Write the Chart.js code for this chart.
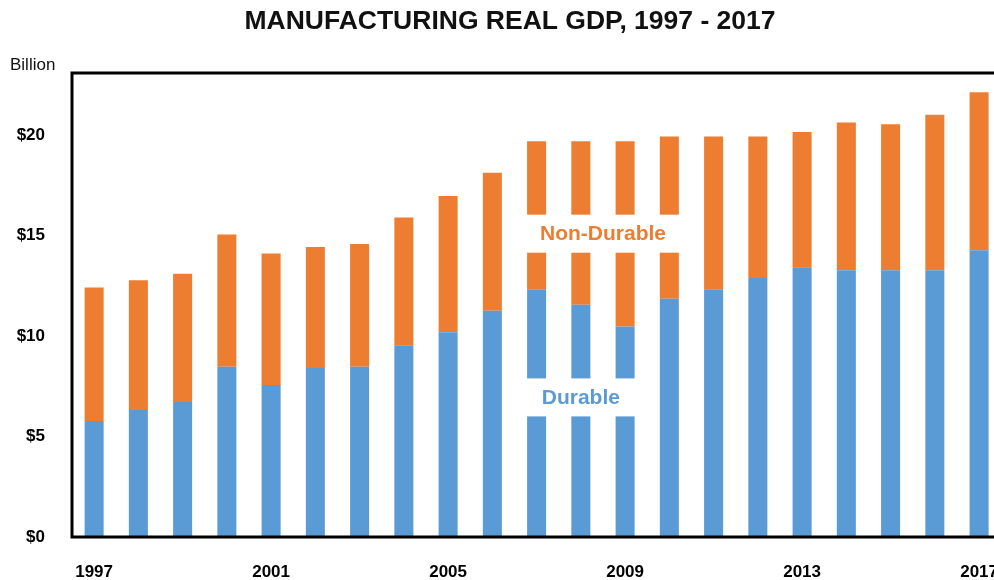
<!DOCTYPE html>
<html>
<head>
<meta charset="utf-8">
<script src="https://cdn.jsdelivr.net/npm/chart.js@4.4.1/dist/chart.umd.min.js"></script>
<style>
  html, body { margin: 0; padding: 0; background: #fff; overflow: hidden; }
</style>
</head>
<body>
<canvas id="gdpChart" width="1023" height="580"></canvas>
<script>
// values, in billions
const years = ['1997','1998','1999','2000','2001','2002','2003','2004','2005','2006','2007',
               '2008','2009','2010','2011','2012','2013','2014','2015','2016','2017'];
const shownYears = ['1997','2001','2005','2009','2013','2017'];
const durable    = [5.77, 6.32, 6.72, 8.47, 7.57, 8.41, 8.47, 9.55, 10.19, 11.26, 12.34,
                    11.56, 10.48, 11.86, 12.34, 12.90, 13.43, 13.28, 13.28, 13.28, 14.27];
const nonDurable = [6.65, 6.46, 6.39, 6.59, 6.55, 6.03, 6.12, 6.35, 6.79, 6.88, 7.36,
                    8.14, 9.22, 8.08, 7.60, 7.04, 6.73, 7.35, 7.27, 7.74, 7.87];
const yTicks = [0, 5, 10, 15, 20];

const BLUE = '#5B9BD5';
const ORANGE = '#ED7D31';
const FONT = "'Liberation Sans', Arial, sans-serif";

Chart.defaults.font.family = FONT;

// title, frame lines, "Billion" and the two in-chart labels
const extras = {
    id: 'extras',
    afterDatasetsDraw(chart) {
        const ctx = chart.ctx;
        const a = chart.chartArea;
        const xs = chart.scales.x;
        const ys = chart.scales.y;

        ctx.save();
        ctx.strokeStyle = '#000';
        ctx.lineWidth = 3;
        ctx.beginPath();
        ctx.moveTo(chart.width, a.top);
        ctx.lineTo(a.left, a.top);
        ctx.lineTo(a.left, a.bottom);
        ctx.lineTo(chart.width, a.bottom);
        ctx.stroke();

        // labels sitting on white boxes over the bars
        ctx.font = 'bold 21px ' + FONT;
        ctx.textAlign = 'center';
        ctx.textBaseline = 'middle';
        function tag(text, cx, val, color) {
            const cy = ys.getPixelForValue(val);
            const w = ctx.measureText(text).width + 36;
            ctx.fillStyle = '#fff';
            ctx.fillRect(cx - w / 2, cy - 19, w, 38);
            ctx.fillStyle = color;
            ctx.fillText(text, cx, cy + 1);
        }
        let i08 = years.indexOf('2008'), i09 = years.indexOf('2009');
        tag('Non-Durable', (xs.getPixelForValue(i08) + xs.getPixelForValue(i09)) / 2, 15.1, ORANGE);
        tag('Durable', xs.getPixelForValue(i08), 6.95, BLUE);

        ctx.fillStyle = '#111';
        ctx.font = 'bold 26.5px ' + FONT;
        ctx.fillText('MANUFACTURING REAL GDP, 1997 - 2017', 510, 22);

        ctx.font = '17px ' + FONT;
        ctx.textAlign = 'left';
        ctx.fillText('Billion', 10, a.top - 8);
        ctx.restore();
    }
};

new Chart(document.getElementById('gdpChart').getContext('2d'), {
    type: 'bar',
    data: {
        labels: years,
        datasets: [
            { label: 'Durable', data: durable, backgroundColor: BLUE,
              barPercentage: 0.43, categoryPercentage: 1.0, borderWidth: 0 },
            { label: 'Non-Durable', data: nonDurable, backgroundColor: ORANGE,
              barPercentage: 0.43, categoryPercentage: 1.0, borderWidth: 0 }
        ]
    },
    options: {
        responsive: false,
        animation: false,
        layout: { padding: { left: 0, right: 0, top: 73, bottom: 0 } },
        plugins: {
            legend: { display: false },
            tooltip: { enabled: false },
            title: { display: false }
        },
        scales: {
            x: {
                stacked: true,
                grid: { display: false, drawTicks: false },
                border: { display: false },
                ticks: {
                    autoSkip: false,
                    maxRotation: 0,
                    color: '#000',
                    padding: 25,
                    font: { size: 17, weight: 'bold' },
                    callback: (v, i) => shownYears.includes(years[i]) ? years[i] : ''
                },
                afterFit: s => { s.height = 43; }
            },
            y: {
                stacked: true,
                min: 0,
                max: 23.1,
                grid: { display: false, drawTicks: false },
                border: { display: false },
                ticks: {
                    color: '#000',
                    padding: 27,
                    font: { size: 17, weight: 'bold' },
                    callback: v => '$' + v
                },
                afterBuildTicks: s => { s.ticks = yTicks.map(v => ({ value: v })); },
                afterFit: s => { s.width = 72; }
            }
        }
    },
    plugins: [extras]
});
</script>
</body>
</html>
